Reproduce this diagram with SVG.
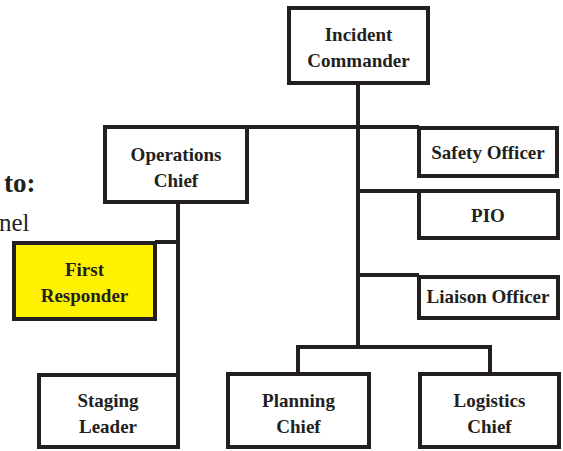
<svg xmlns="http://www.w3.org/2000/svg" width="563" height="451" viewBox="0 0 563 451">
<style>
.box{fill:#fff;stroke:#231f20;stroke-width:4}
.hl{fill:#fff200}
.t{font-family:"Liberation Serif","DejaVu Serif",serif;font-weight:bold;font-size:19px;fill:#231f20;text-anchor:middle}
.c{fill:none;stroke:#231f20;stroke-width:4}
</style>
<rect width="563" height="451" fill="#fff"/>
<text x="4" y="192" font-family="Liberation Serif, serif" font-weight="bold" font-size="27" fill="#231f20">to:</text>
<text x="-1" y="231" font-family="Liberation Serif, serif" font-size="25" fill="#231f20">nel</text>
<g id="connectors">
<path class="c" d="M358 82V347"/>
<path class="c" d="M248 127H419"/>
<path class="c" d="M358 191H419"/>
<path class="c" d="M358 275H419"/>
<path class="c" d="M298 373V347H490V373"/>
<path class="c" d="M178 202V375"/>
<path class="c" d="M155 242H178"/>
</g>
<g id="incident-commander"><rect class="box" x="289" y="8" width="139" height="75"/><text class="t" x="358.5" y="41">Incident</text><text class="t" x="358.5" y="67">Commander</text></g>
<g id="operations-chief"><rect class="box" x="105" y="127" width="142" height="75"/><text class="t" x="176" y="161">Operations</text><text class="t" x="176" y="187">Chief</text></g>
<g id="safety-officer"><rect class="box" x="419" y="128" width="138" height="48"/><text class="t" x="488" y="159">Safety Officer</text></g>
<g id="pio"><rect class="box" x="419" y="191" width="139" height="47"/><text class="t" x="488" y="222">PIO</text></g>
<g id="liaison-officer"><rect class="box" x="419" y="277" width="139" height="41"/><text class="t" x="488" y="303">Liaison Officer</text></g>
<g id="first-responder"><rect class="box hl" x="14" y="243" width="141" height="76"/><text class="t" x="84.5" y="276">First</text><text class="t" x="84.5" y="302">Responder</text></g>
<g id="staging-leader"><rect class="box" x="39" y="375" width="139" height="72"/><text class="t" x="108" y="407">Staging</text><text class="t" x="108" y="433">Leader</text></g>
<g id="planning-chief"><rect class="box" x="228" y="374" width="141" height="73"/><text class="t" x="298.5" y="407">Planning</text><text class="t" x="298.5" y="433">Chief</text></g>
<g id="logistics-chief"><rect class="box" x="420" y="374" width="139" height="73"/><text class="t" x="489.5" y="407">Logistics</text><text class="t" x="489.5" y="433">Chief</text></g>
</svg>
